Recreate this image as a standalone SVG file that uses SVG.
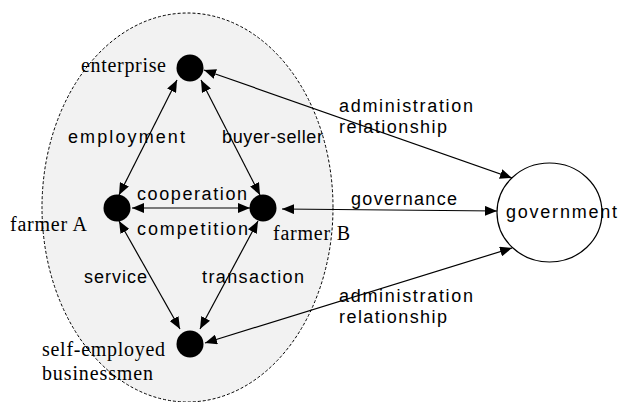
<svg xmlns="http://www.w3.org/2000/svg" width="622" height="402" viewBox="0 0 622 402">
<defs>
<marker id="ah" viewBox="0 0 12 10" refX="12" refY="5" markerWidth="12" markerHeight="10" markerUnits="userSpaceOnUse" orient="auto-start-reverse">
<path d="M0,0 L12,5 L0,10 Z" fill="#000"/>
</marker>
<style>
.sans{font-family:"Liberation Sans",Arial,sans-serif;font-size:18px;fill:#000}
.serif{font-family:"Liberation Serif","Times New Roman",serif;font-size:20px;fill:#000}
.dot{fill:#000}
.conn line{stroke:#000;stroke-width:1.2;marker-start:url(#ah);marker-end:url(#ah)}
</style>
</defs>
<rect width="622" height="402" fill="#fff"/>
<ellipse id="boundary" cx="187.5" cy="207.5" rx="145.5" ry="194.5" fill="#f2f2f2" stroke="#000" stroke-width="1" stroke-dasharray="3,2"/>
<g id="connectors" class="conn">
<line x1="177" y1="80" x2="119" y2="195"/>
<line x1="201" y1="80" x2="260" y2="195"/>
<line x1="132" y1="208" x2="250" y2="208"/>
<line x1="119" y1="221" x2="180" y2="329"/>
<line x1="258" y1="221" x2="200" y2="329"/>
<line x1="204" y1="70" x2="512" y2="178"/>
<line x1="282" y1="209" x2="497" y2="211"/>
<line x1="205" y1="343" x2="512" y2="248"/>
</g>
<g id="edge-labels" class="sans">
<text x="68" y="143" textLength="117" lengthAdjust="spacing">employment</text>
<text x="222" y="143" textLength="101" lengthAdjust="spacing">buyer-seller</text>
<text x="137" y="200" textLength="110" lengthAdjust="spacing">cooperation</text>
<text x="137" y="235" textLength="111" lengthAdjust="spacing">competition</text>
<text x="84" y="283" textLength="63" lengthAdjust="spacing">service</text>
<text x="202" y="283" textLength="102" lengthAdjust="spacing">transaction</text>
<text x="339" y="112" textLength="134" lengthAdjust="spacing">administration</text>
<text x="339" y="133" textLength="108" lengthAdjust="spacing">relationship</text>
<text x="351" y="205" textLength="106" lengthAdjust="spacing">governance</text>
<text x="339" y="302" textLength="134" lengthAdjust="spacing">administration</text>
<text x="339" y="323" textLength="108" lengthAdjust="spacing">relationship</text>
</g>
<g id="enterprise">
<circle class="dot" cx="190" cy="68" r="13.5"/>
<text class="serif" x="81" y="72" textLength="85" lengthAdjust="spacing">enterprise</text>
</g>
<g id="farmerA">
<circle class="dot" cx="117" cy="208" r="13.5"/>
<text class="serif" x="10" y="231" textLength="77" lengthAdjust="spacing">farmer A</text>
</g>
<g id="farmerB">
<circle class="dot" cx="263" cy="208" r="13.5"/>
<text class="serif" x="273" y="240" textLength="77" lengthAdjust="spacing">farmer B</text>
</g>
<g id="self-employed">
<circle class="dot" cx="190" cy="344" r="13.5"/>
<text class="serif" x="42" y="356" textLength="123" lengthAdjust="spacing">self-employed</text>
<text class="serif" x="42" y="380" textLength="111" lengthAdjust="spacing">businessmen</text>
</g>
<g id="government">
<ellipse cx="549.5" cy="212.5" rx="52.5" ry="49.5" fill="#fff" stroke="#000" stroke-width="1.2"/>
<text class="sans" x="506" y="218" textLength="111" lengthAdjust="spacing">government</text>
</g>
</svg>
